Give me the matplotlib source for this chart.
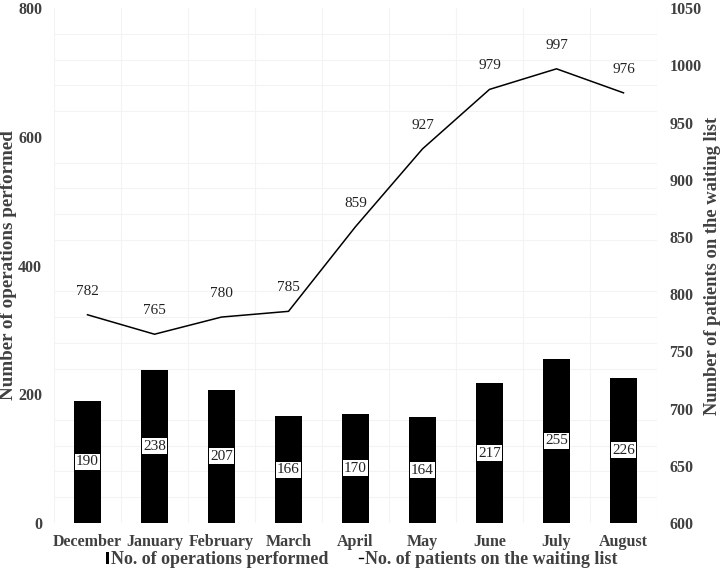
import numpy as np
import matplotlib.pyplot as plt
from matplotlib.lines import Line2D
from matplotlib.patches import Patch

months = ["December", "January", "February", "March", "April", "May", "June", "July", "August"]
operations = [190, 238, 207, 166, 170, 164, 217, 255, 226]
waiting = [782, 765, 780, 785, 859, 927, 979, 997, 976]

plt.rcParams['font.family'] = ['Liberation Serif', 'DejaVu Serif']
txt = '#404040'

fig = plt.figure(figsize=(7.23, 5.72), dpi=100)
ax = fig.add_axes([0.0747, 0.0857, 0.834, 0.900])
ax2 = ax.twinx()

x = np.arange(len(months))
ax.bar(x, operations, width=0.4, color='black', zorder=3)
for xi, v in zip(x, operations):
    ax.text(xi, v / 2, str(v), ha='center', va='center', fontsize=11, color='#222222', zorder=4,
            bbox=dict(boxstyle='square,pad=0.1', fc='white', ec='none'))

ax2.plot(x, waiting, color='black', lw=1.1, zorder=3)
for xi, v in zip(x, waiting):
    ax2.annotate(str(v), (xi, v), xytext=(0, 17), textcoords='offset points',
                 ha='center', va='center', fontsize=11, color='#222222')

ax.set_xlim(-0.5, len(months) - 0.5)
ax.set_ylim(0, 800)
ax2.set_ylim(600, 1050)
ax.set_yticks([0, 200, 400, 600, 800])
ax2.set_yticks(np.arange(600, 1051, 50))
ax.set_xticks(x)
ax.set_xticklabels(months)

# faint grid
ax.set_xticks(np.arange(-0.5, len(months), 0.5), minor=True)
ax.set_yticks(np.arange(0, 801, 40), minor=True)
ax.grid(which='minor', color='#f3f3f3', lw=0.8, zorder=0)
ax.tick_params(which='minor', length=0)
ax.set_axisbelow(True)

for a in (ax, ax2):
    for s in a.spines.values():
        s.set_visible(False)
    a.tick_params(length=0, labelsize=11.5, labelcolor=txt)
    for lab in a.get_yticklabels() + a.get_xticklabels():
        lab.set_fontweight('bold')
ax.tick_params(axis='x', pad=8)
ax.tick_params(axis='y', pad=8.5)
ax2.tick_params(axis='y', pad=9)

ax.set_ylabel("Number of operations performed", fontsize=13.7, fontweight='bold', color=txt, labelpad=1)
ax2.set_ylabel("Number of patients on the waiting list", fontsize=13.3, fontweight='bold', color=txt, labelpad=2)

handles = [Patch(facecolor='black'), Line2D([0], [0], color='black', lw=1)]
leg = fig.legend(handles, ["No. of operations performed", "No. of patients on the waiting list"],
                 loc='center', bbox_to_anchor=(0.5, 0.021), ncol=2, frameon=False,
                 handlelength=0.2, handleheight=0.7, handletextpad=0.1, columnspacing=1.7,
                 prop=dict(size=13, weight='bold'))
for t in leg.get_texts():
    t.set_color(txt)

fig.savefig("out.png", dpi=100)
